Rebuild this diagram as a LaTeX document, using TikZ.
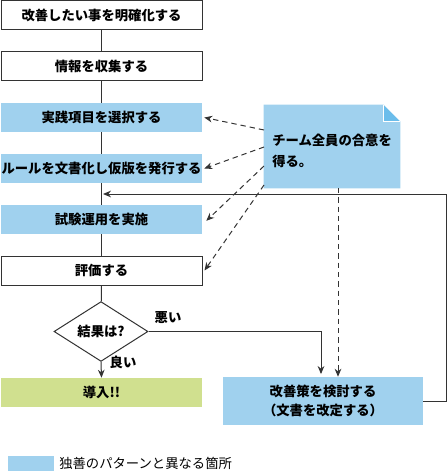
\documentclass[tikz,border=0pt]{standalone}
\usepackage{fontspec}
\setmainfont{Noto Sans CJK JP}
\usetikzlibrary{arrows.meta,shapes.geometric,calc}
\definecolor{lblue}{HTML}{A0D1EE}
\definecolor{dblue}{HTML}{6BBDEB}
\definecolor{lgreen}{HTML}{D0E08F}
\definecolor{edgec}{HTML}{333333}
\begin{document}
\begin{tikzpicture}[x=0.75pt,y=-0.75pt,
  font=\bfseries\fontsize{10}{14.25}\selectfont,
  wbox/.style={minimum width=150.75pt, minimum height=21.75pt, inner sep=0pt, draw=edgec, line width=0.75pt, fill=white},
  bbox/.style={minimum width=150.75pt, minimum height=21.75pt, inner sep=0pt, fill=lblue},
  ln/.style={draw=edgec, line width=0.75pt},
  arr/.style={ln, -{Stealth[length=6pt,width=5pt]}},
  darr/.style={ln, dash pattern=on 4pt off 3pt, -{Stealth[length=6pt,width=5pt]}},
  dline/.style={ln, dash pattern=on 4pt off 3pt}]
\useasboundingbox (0,0) rectangle (448,474);

% left column
\node[wbox] (b1) at (101.5,15) {改善したい事を明確化する};
\node[wbox] (b2) at (101.5,66) {情報を収集する};
\node[bbox] (b3) at (101.5,117.5) {実践項目を選択する};
\node[bbox] (b4) at (101.5,168.5) {ルールを文書化し仮版を発行する};
\node[bbox] (b5) at (101.5,219.5) {試験運用を実施};
\node[wbox] (b6) at (101.5,270.5) {評価する};
\node[diamond, draw=edgec, line width=0.75pt, inner sep=0pt, minimum width=70.5pt, minimum height=36.75pt, fill=white] (dec) at (101,331.5) {結果は?};
\node[minimum width=150.75pt, minimum height=21.75pt, inner sep=0pt, fill=lgreen] (intro) at (101.5,392.5) {導入!!};
\node[minimum width=150pt, minimum height=36pt, inner sep=0pt, fill=lblue, align=center] (kai) at (323,401) {改善策を検討する\\（文書を改定する）};

\draw[ln] (b1) -- (b2);
\draw[ln] (b2) -- (b3);
\draw[ln] (b3) -- (b4);
\draw[ln] (b4) -- (b5);
\draw[ln] (b5) -- (b6);
\draw[ln] (b6) -- (dec);
\draw[arr] (dec.south) -- (intro.north);
\node (good) at (123,362) {良い};
\node (bad) at (168,318) {悪い};
\draw[arr] (dec.east) -| ([xshift=-1.5pt,yshift=2pt]kai.north);

% loop back
\coordinate (join) at (103,194);
\draw[arr] (kai.east) -- (446,401) |- (join);

% note
\node[minimum width=102pt, minimum height=62.25pt, inner sep=0pt] (note) at (332,146.5) {};
\fill[lblue] (note.north west) -- ([xshift=-12.75pt]note.north east) -- ([yshift=-12.75pt]note.north east) -- (note.south east) -- (note.south west) -- cycle;
\filldraw[fill=dblue, draw=white, line width=0.6pt] ([xshift=-12.75pt]note.north east) -- ([xshift=-12.75pt,yshift=-12.75pt]note.north east) -- ([yshift=-12.75pt]note.north east);
\node[anchor=north west, align=left, inner sep=0pt, font=\bfseries\fontsize{10}{15.75}\selectfont] (ntext) at (272,134) {チーム全員の合意を\\得る。};

\coordinate (n1) at (264,130);
\coordinate (n2) at (264,147);
\coordinate (n3) at (264,166);
\coordinate (n4) at (264,185);
\draw[darr] (n1) -- ([xshift=1.5pt]b3.east);
\draw[darr] (n2) -- ([xshift=1.5pt]b4.east);
\draw[darr] (n3) -- ([xshift=3pt,yshift=-1pt]b5.east);
\draw[darr] (n4) -- ([xshift=1.5pt]b6.east);
\coordinate (nd) at (338,188);
\draw[darr] (nd) -- (nd |- kai.north) ;

% legend
\node[fill=lblue, minimum width=34.5pt, minimum height=11.25pt, inner sep=0pt] (leg) at (31,463.5) {};
\node[anchor=west, inner sep=0pt, font=\fontsize{10}{12}\selectfont] (legt) at (59,463.5) {独善のパターンと異なる箇所};
\end{tikzpicture}
\end{document}
